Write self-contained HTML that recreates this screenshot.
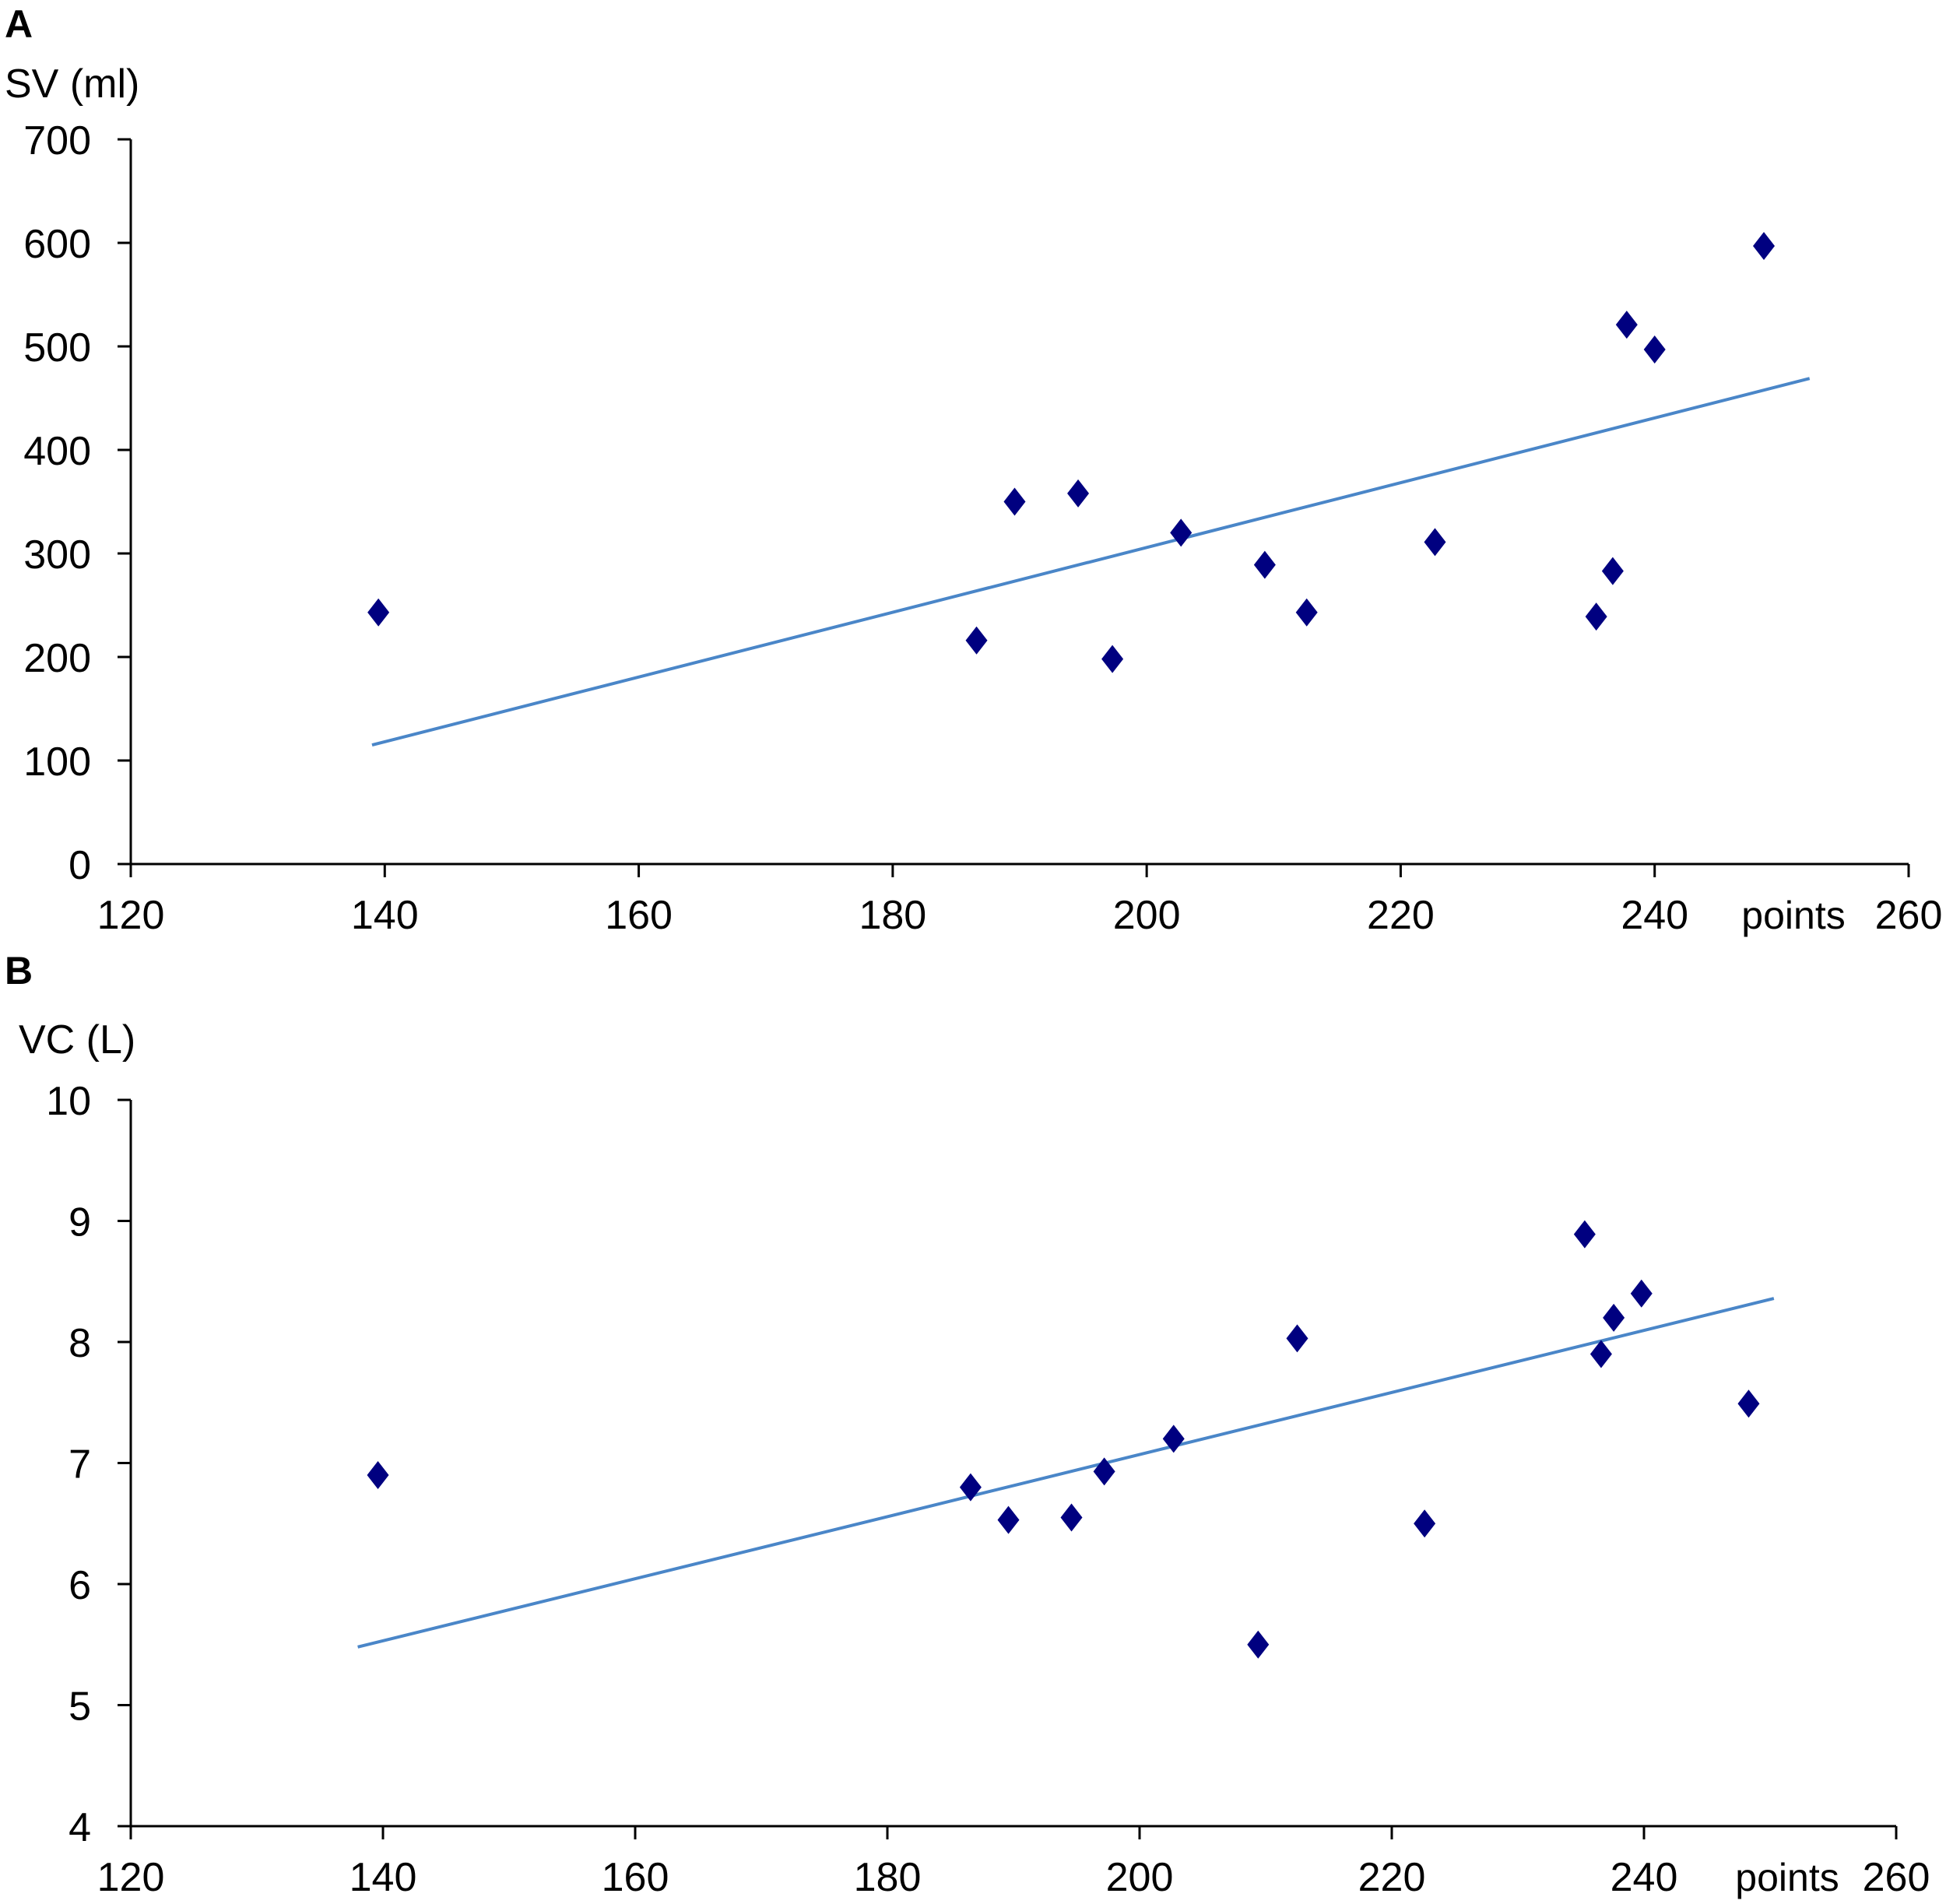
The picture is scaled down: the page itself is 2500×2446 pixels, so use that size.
<!DOCTYPE html>
<html><head><meta charset="utf-8"><style>body{margin:0;background:#fff}svg{display:block}text{font-family:"Liberation Sans",sans-serif;fill:#000}</style></head>
<body>
<svg id="fig" xmlns="http://www.w3.org/2000/svg" width="2500" height="2446" viewBox="0 0 2500 2446">
<text x="6" y="48" font-size="50" font-weight="bold">A</text>
<text x="6" y="125" font-size="52">SV (ml)</text>
<text x="6" y="1264" font-size="50" font-weight="bold">B</text>
<text x="24" y="1353" font-size="52">VC (L)</text>
<g id="chartA"></g>
<g id="chartB"></g>
</svg>
<script>
const xTicks=[120,140,160,180,200,220,240,260];
const aYTicks=[0,100,200,300,400,500,600,700];
const aX=[139.5,186.6,189.6,194.6,197.3,202.7,209.3,212.6,222.7,235.4,236.7,237.8,240,248.6];
const aY=[243,216,350,358,198,320,289,243,311,239,283,521,497,597];
const aTrendX=[139,252.2];
const aTrendY=[115,469];
const bYTicks=[4,5,6,7,8,9,10];
const bX=[139.6,186.6,189.6,194.6,197.2,202.7,209.4,212.5,222.6,235.3,236.6,237.6,239.8,248.3];
const bY=[6.9,6.8,6.53,6.55,6.93,7.2,5.5,8.03,6.5,8.89,7.9,8.2,8.4,7.49];
const bTrendX=[138,250.3];
const bTrendY=[5.48,8.36];
const NS="http://www.w3.org/2000/svg";
function mk(parent,tag,attrs){const e=document.createElementNS(NS,tag);for(const k in attrs)e.setAttribute(k,attrs[k]);parent.appendChild(e);return e;}
function draw(g,cfg){
  const sx=v=>cfg.x0+(v-cfg.xmin)/(cfg.xmax-cfg.xmin)*(cfg.x1-cfg.x0);
  const sy=v=>cfg.y0-(v-cfg.ymin)/(cfg.ymax-cfg.ymin)*(cfg.y0-cfg.y1);
  let e=mk(g,'line',{x1:cfg.x0,y1:cfg.y0,x2:cfg.x0,y2:cfg.y1,stroke:'#000','stroke-width':3});
  
  
  e=mk(g,'line',{x1:cfg.x0,y1:cfg.y0,x2:cfg.x1,y2:cfg.y0,stroke:'#000','stroke-width':3});
  
  
  cfg.yt.forEach(v=>{
    const t=mk(g,'line',{x1:cfg.x0-17,y1:sy(v),x2:cfg.x0,y2:sy(v),stroke:'#000','stroke-width':3});
    
    
    const l=mk(g,'text',{x:117,y:sy(v)+19,'font-size':52,'text-anchor':'end'});
    l.textContent=v;
    
    
  });
  xTicks.forEach(v=>{
    const t=mk(g,'line',{x1:sx(v),y1:cfg.y0,x2:sx(v),y2:cfg.y0+17,stroke:'#000','stroke-width':3});
    
    
    const l=mk(g,'text',{x:sx(v),y:cfg.y0+83,'font-size':52,'text-anchor':'middle'});
    l.textContent=v;
    
    
  });
  const p=mk(g,'text',{x:cfg.px,y:cfg.y0+83,'font-size':50,'text-anchor':'middle'});
  p.textContent='points';
  
  
  const tl=mk(g,'line',{x1:sx(cfg.tx[0]),y1:sy(cfg.ty[0]),x2:sx(cfg.tx[1]),y2:sy(cfg.ty[1]),stroke:'#4a86c8','stroke-width':4});
  
  
  cfg.xs.forEach((xv,i)=>{
    const cx=sx(xv),cy=sy(cfg.ys[i]);
    const d=mk(g,'polygon',{points:`${cx},${cy-18} ${cx+14},${cy} ${cx},${cy+18} ${cx-14},${cy}`,fill:'#000080'});
    
    
  });
}
draw(document.getElementById('chartA'),{x0:168,x1:2452,y0:1110,y1:179,xmin:120,xmax:260,ymin:0,ymax:700,yt:aYTicks,xs:aX,ys:aY,tx:aTrendX,ty:aTrendY,px:2304});
draw(document.getElementById('chartB'),{x0:168,x1:2436,y0:2346,y1:1413,xmin:120,xmax:260,ymin:4,ymax:10,yt:bYTicks,xs:bX,ys:bY,tx:bTrendX,ty:bTrendY,px:2296});
</script>
</body></html>
